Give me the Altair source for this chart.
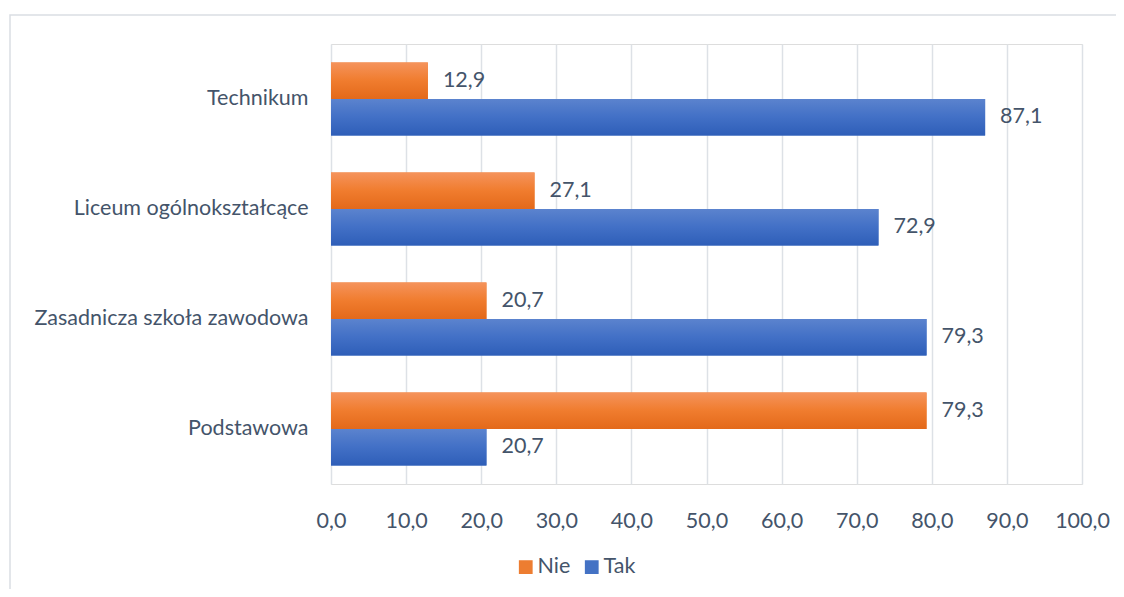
import altair as alt
import pandas as pd

categories = ["Technikum", "Liceum ogólnokształcące", "Zasadnicza szkoła zawodowa", "Podstawowa"]
series = ["Nie", "Tak"]
nie_values = [12.9, 27.1, 20.7, 79.3]
tak_values = [87.1, 72.9, 79.3, 20.7]
x_ticks = [0, 10, 20, 30, 40, 50, 60, 70, 80, 90, 100]

rows = []
for c, n, t in zip(categories, nie_values, tak_values):
    rows.append({"kat": c, "seria": "Nie", "v": n})
    rows.append({"kat": c, "seria": "Tak", "v": t})
df = pd.DataFrame(rows)

FONT = "Lato"
TXT = "#44546A"
FS = 21.5

ORANGE = "#ED7D31"
BLUE = "#4472C4"

grad_orange = alt.Gradient(
    gradient="linear", x1=0, x2=0, y1=0, y2=1,
    stops=[alt.GradientStop(color="#F5935C", offset=0),
           alt.GradientStop(color="#F07C2E", offset=0.5),
           alt.GradientStop(color="#E3691A", offset=1)])
grad_blue = alt.Gradient(
    gradient="linear", x1=0, x2=0, y1=0, y2=1,
    stops=[alt.GradientStop(color="#5B83CE", offset=0),
           alt.GradientStop(color="#4270C6", offset=0.5),
           alt.GradientStop(color="#2E5EB8", offset=1)])

yenc = alt.Y("kat:N", sort=categories, title=None,
             scale=alt.Scale(paddingInner=0.336, paddingOuter=0.168),
             axis=alt.Axis(ticks=False, domain=False, labelPadding=23,
                           labelFont=FONT, labelFontSize=FS, labelColor=TXT,
                           labelLimit=400))
xenc = alt.X("v:Q", title=None,
             scale=alt.Scale(domain=[0, 100], nice=False),
             axis=alt.Axis(values=x_ticks, ticks=False, domain=False,
                           grid=True, gridColor="#DDE1E6", gridWidth=1.5,
                           labelFlush=False, labelOverlap=False,
                           labelPadding=26, labelFont=FONT, labelFontSize=FS,
                           labelColor=TXT,
                           labelExpr="replace(format(datum.value, '.1f'), '.', ',')"))
yoff = alt.YOffset("seria:N", scale=alt.Scale(domain=series, paddingInner=0, paddingOuter=0))

base = alt.Chart(df)

legend_layer = base.mark_bar().encode(
    x=xenc, y=yenc, yOffset=yoff,
    color=alt.Color("seria:N", scale=alt.Scale(domain=series, range=[ORANGE, BLUE]),
                    legend=alt.Legend(title=None, orient="none", legendX=184, legendY=512,
                                      direction="horizontal", symbolType="square",
                                      symbolSize=190, symbolStrokeWidth=0,
                                      labelFont=FONT, labelFontSize=FS, labelColor=TXT,
                                      columnPadding=10, labelOffset=1)),
)

nie_layer = base.transform_filter(alt.datum.seria == "Nie").mark_bar(color=grad_orange).encode(
    x=xenc, y=yenc, yOffset=yoff)
tak_layer = base.transform_filter(alt.datum.seria == "Tak").mark_bar(color=grad_blue).encode(
    x=xenc, y=yenc, yOffset=yoff)

labels = base.transform_calculate(
    lab="replace(format(datum.v, '.1f'), '.', ',')"
).mark_text(align="left", baseline="middle", dx=15, font=FONT, fontSize=FS, color=TXT).encode(
    x=xenc, y=yenc, yOffset=yoff, text="lab:N")

frame = alt.Chart(pd.DataFrame({"a": [0]})).mark_rect(
    fill=None, stroke="#DADEE3", strokeWidth=1.5, clip=False
).encode(x=alt.value(-321), x2=alt.value(900), y=alt.value(-29), y2=alt.value(700))

chart = alt.layer(frame, legend_layer, nie_layer, tak_layer, labels).properties(
    width=751, height=440,
    autosize=alt.AutoSizeParams(type="none"),
    padding={"left": 323, "top": 36, "right": 34, "bottom": 105},
).configure_view(stroke=None).configure(background="white")

chart.save("out.html", embed_options={"renderer": "svg", "actions": False})
